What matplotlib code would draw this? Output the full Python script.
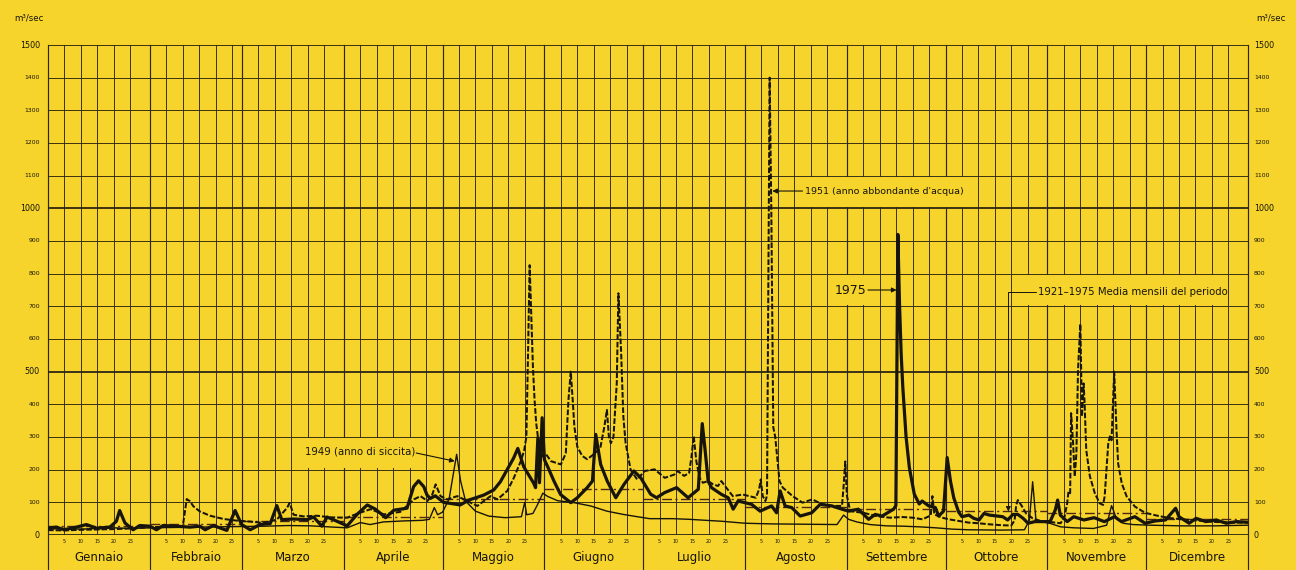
import matplotlib
matplotlib.use("Agg")
import matplotlib.pyplot as plt
from matplotlib.patches import Rectangle

plt.rcParams["font.family"] = ["DejaVu Sans"]

PAPER = "#F6D42B"
INK = "#17140c"
GRID = "#2c2613"
MEAN_INK = "#4d2614"

# ---- calendar ---------------------------------------------------------------
months = ["Gennaio", "Febbraio", "Marzo", "Aprile", "Maggio", "Giugno",
          "Luglio", "Agosto", "Settembre", "Ottobre", "Novembre", "Dicembre"]
month_len = [31, 28, 31, 30, 31, 30, 31, 31, 30, 31, 30, 31]
day_marks = [5, 10, 15, 20, 25]
flow_ticks = list(range(0, 1501, 100))

# ---- daily discharge, m3/sec (day of year, value) -----------------------------
days_1975 = [0, 2.5, 5, 8.6, 11.7, 14.7, 18.8, 20.8, 21.8, 23.4,
             25.9, 27.9, 31, 33, 35, 39, 43.2, 46.2, 47.8, 50.3,
             54.4, 56.9, 58.9, 61.5, 64.5, 67.6, 69.6, 71.1, 74.7, 78.8,
             80.8, 83.3, 84.9, 87.9, 91, 94, 97.1, 99.6, 102.7, 105.2,
             109.2, 111.2, 112.7, 114.3, 115.3, 116.3, 117.8, 120.3, 125.4, 128,
             132.5, 135.6, 137.6, 139.6, 141.6, 142.9, 144.7, 147.7, 148.3, 149,
             149.5, 150.3, 151, 151.9, 153.9, 155.9, 159, 161, 164, 165.6,
             166.6, 168.1, 170.1, 172.7, 175.2, 178.2, 180.3, 183.3, 185.1, 187.6,
             191.2, 194.7, 197.8, 199, 199.8, 200.8, 201.8, 204.9, 206.9, 208.4,
             209.9, 214, 216.6, 220.1, 221.6, 222.7, 224.2, 226.2, 228.8, 232.3,
             234.9, 238.4, 241.5, 243.5, 246.5, 249.6, 251.6, 253.7, 257.2, 257.9,
             258.5, 259, 259.5, 260, 261, 262, 263.5, 265, 265.9, 267.9,
             269.9, 270.9, 272.4, 273.5, 274.5, 275.5, 277, 278, 280.1, 281.6,
             283.2, 284.7, 286.3, 290.4, 291.9, 293.5, 295, 296.6, 298.1, 300.2,
             304.8, 306.4, 307.1, 307.9, 310, 312, 315.1, 318.2, 321.3, 324.4,
             326.5, 330.6, 333.7, 336.8, 339.9, 343, 344, 347.1, 349.2, 352.2,
             355.3, 358.4, 361.5, 365]
flow_1975 = [21, 24, 16, 24, 32, 21, 24, 42, 75, 37,
             16, 29, 27, 16, 29, 27, 24, 27, 16, 29,
             14, 75, 32, 16, 32, 35, 90, 47, 49, 47,
             55, 27, 55, 42, 28, 63, 92, 79, 53, 76,
             82, 148, 166, 148, 122, 112, 120, 100, 92, 107,
             122, 138, 163, 199, 235, 265, 209, 159, 145, 298,
             160, 359, 230, 211, 165, 124, 99, 114, 145, 165,
             308, 216, 165, 114, 155, 196, 175, 125, 114, 130,
             145, 114, 140, 341, 267, 165, 145, 124, 114, 79,
             104, 94, 73, 89, 68, 135, 89, 84, 58, 68,
             94, 89, 79, 73, 79, 48, 63, 58, 79, 90,
             920, 708, 555, 453, 300, 206, 125, 95, 104, 89,
             84, 58, 73, 237, 165, 114, 70, 56, 61, 51,
             46, 66, 61, 56, 46, 63, 63, 51, 36, 41,
             41, 77, 107, 61, 41, 56, 46, 53, 41, 56,
             41, 56, 36, 43, 46, 82, 56, 36, 51, 41,
             46, 36, 41, 39]

days_1951 = [0, 5, 10, 15, 20, 25, 31, 36, 41, 42.2,
             43.2, 44.2, 46.2, 49.3, 53.4, 57.4, 61.5, 65.5, 69.6, 72.7,
             73.5, 74.7, 77.7, 81.8, 85.9, 91, 94, 98.1, 102.2, 107.2,
             111.3, 113.3, 115.4, 116.9, 117.9, 119.4, 121.4, 124.5, 127.5, 130.6,
             134.6, 136.7, 139.7, 141.7, 143.8, 144.8, 145.5, 146, 146.5, 147,
             147.5, 148, 148.5, 149, 149.7, 150.5, 151.5, 153, 156, 157.5,
             158.3, 159, 159.6, 160.1, 161, 162.5, 164, 166, 168, 169.2,
             170, 170.6, 171.2, 172, 173, 173.5, 174.3, 175, 175.7, 177.2,
             179.2, 181.5, 184.5, 187.6, 190.5, 191.5, 193.5, 195, 195.7, 196.4,
             197.2, 198.2, 199.2, 200.8, 202.3, 203.8, 204.8, 206.3, 208.3, 211.3,
             213.3, 215.3, 216.3, 216.8, 217.4, 218.2, 218.7, 219.5, 220, 220.6,
             221.2, 221.8, 222.5, 223.5, 226.5, 229.5, 232.5, 235.5, 238.5, 241.5,
             242, 242.5, 243, 244, 248, 252, 256, 260, 263, 266,
             268.5, 269, 269.6, 272, 274, 277, 280, 283, 286, 290,
             293, 294, 294.5, 295, 296, 297.5, 299.5, 302.5, 305.5, 308,
             309.2, 310, 310.4, 310.9, 311.2, 311.8, 312.3, 312.8, 313.3, 314,
             314.5, 315, 315.3, 315.8, 316.9, 318.4, 319.9, 320.9, 321.4, 322.5,
             323, 323.5, 324.3, 325, 325.5, 326.6, 328.1, 330.6, 333.7, 337,
             341, 345, 350, 355, 360, 365]
flow_1951 = [15, 14, 16, 17, 18, 20, 24, 25, 27, 110,
             103, 88, 72, 59, 49, 44, 41, 37, 47, 83,
             98, 62, 57, 59, 54, 53, 65, 79, 63, 71,
             109, 119, 104, 124, 155, 119, 109, 119, 104, 89,
             119, 109, 135, 175, 226, 257, 300, 550, 826, 668,
             515, 413, 342, 301, 260, 240, 247, 226, 216, 250,
             413, 500, 413, 332, 270, 242, 232, 247, 267, 330,
             383, 301, 281, 300, 465, 740, 566, 362, 281, 200,
             170, 196, 201, 175, 185, 196, 181, 190, 237, 303,
             226, 175, 160, 165, 155, 150, 165, 145, 119, 124,
             119, 114, 140, 170, 119, 104, 120, 1400, 1000, 330,
             300, 237, 165, 145, 119, 99, 109, 94, 89, 89,
             150, 225, 120, 73, 68, 58, 53, 55, 53, 48,
             60, 119, 63, 53, 48, 43, 38, 36, 33, 30,
             29, 45, 92, 107, 92, 66, 51, 41, 39, 36,
             56, 97, 133, 128, 373, 281, 179, 250, 505, 646,
             363, 464, 403, 260, 180, 128, 97, 92, 118, 281,
             302, 290, 500, 321, 219, 158, 118, 87, 68, 60,
             52, 48, 44, 40, 38, 38]

days_1949 = [0, 5, 10, 15, 20, 25, 31, 38, 45, 52,
             59, 66, 73, 80, 87, 91, 95, 98, 102, 108,
             114, 116, 117.5, 118.5, 120, 122, 123.5, 124.3, 125.5, 127,
             130, 134, 139, 144, 145, 145.6, 147.5, 149, 150.5, 152,
             155, 160, 165, 170, 175, 178, 183, 190, 195, 200,
             205, 212, 220, 230, 240, 242, 243.5, 246, 250, 255,
             260, 265, 270, 275, 280, 290, 297, 298.5, 299.5, 300.5,
             302, 305, 308, 312, 318, 322, 323.5, 325, 327, 330,
             335, 345, 355, 365]
flow_1949 = [18, 20, 18, 20, 22, 20, 22, 23, 24, 25,
             26, 27, 29, 28, 24, 22, 38, 32, 40, 43,
             45, 48, 84, 62, 70, 110, 200, 247, 165, 104,
             73, 58, 53, 56, 100, 62, 66, 95, 128, 118,
             105, 99, 89, 73, 63, 58, 50, 50, 48, 45,
             42, 36, 34, 33, 32, 61, 48, 40, 32, 28,
             27, 25, 22, 18, 16, 15, 16, 45, 163, 46,
             41, 35, 25, 22, 20, 30, 90, 50, 36, 32,
             30, 28, 28, 30]

# monthly means 1921-1975
mean_monthly = [28, 34, 42, 55, 110, 140, 109, 86, 80, 72, 68, 48]

month_start = [sum(month_len[:i]) for i in range(12)]
month_end = [s + n for s, n in zip(month_start, month_len)]

# ---- figure -----------------------------------------------------------------
W, H = 1296, 570
fig = plt.figure(figsize=(W / 100, H / 100), dpi=100, facecolor=PAPER)
L, R, T, B = 48, 1248, 45, 535
ax = fig.add_axes([L / W, 1 - B / H, (R - L) / W, (B - T) / H])
ax.set_xlim(0, 365)
ax.set_ylim(0, 1500)
ax.axis("off")

STRIP_BOTTOM = -115

# grid: month boundaries run down through the month strip
for s in month_start + [365]:
    ax.plot([s, s], [STRIP_BOTTOM, 1500], color=GRID, lw=0.85,
            clip_on=False, zorder=1)
for s in month_start:
    for d in day_marks:
        ax.plot([s + d, s + d], [0, 1500], color=GRID, lw=0.65, zorder=1)
for v in flow_ticks:
    major = v % 500 == 0
    ax.plot([0, 365], [v, v], color=GRID, lw=1.3 if major else 0.65,
            zorder=1, solid_capstyle="butt")

# blank panels behind the captions
for x0, x1, y0, y1 in [(76.7, 112.8, 204, 296),
                       (227.5, 278.9, 1004, 1096),
                       (237.5, 250.3, 704, 796),
                       (297.8, 358.6, 704, 796)]:
    ax.add_patch(Rectangle((x0, y0), x1 - x0, y1 - y0, facecolor=PAPER,
                           edgecolor="none", zorder=1.5))

# series
ax.hlines(mean_monthly, month_start, month_end, colors=MEAN_INK,
          linestyles=[(0, (7, 2.5, 1.5, 2.5))], lw=1.0, zorder=2)
ax.plot(days_1949, flow_1949, color=INK, lw=1.0, zorder=3,
        solid_joinstyle="round")
ax.plot(days_1951, flow_1951, color=INK, lw=1.45, ls=(0, (2.8, 1.0)),
        zorder=3)
ax.plot(days_1975, flow_1975, color=INK, lw=2.3, zorder=4,
        solid_joinstyle="round", solid_capstyle="round")

# flow scale on both sides
ytr = ax.get_yaxis_transform()
for v in flow_ticks:
    fs = 5.8 if v % 500 == 0 else 4.4
    ax.text(-0.0067, v, str(v), transform=ytr, ha="right", va="center",
            fontsize=fs, color=INK)
    ax.text(1.005, v, str(v), transform=ytr, ha="left", va="center",
            fontsize=fs, color=INK)
fig.text(29 / W, 1 - 18 / H, "m³/sec", ha="center", va="center",
         fontsize=6.2, color=INK)
fig.text(1271 / W, 1 - 18 / H, "m³/sec", ha="center", va="center",
         fontsize=6.2, color=INK)

# month strip
for s, n, name in zip(month_start, month_len, months):
    for d in day_marks:
        ax.text(s + d, -19, str(d), ha="center", va="center", fontsize=3.4,
                color=INK)
    ax.text(s + n / 2, -68, name, ha="center", va="center", fontsize=8.5,
            color=INK)

# captions
arrow = dict(arrowstyle="-|>", color=INK, lw=0.8, mutation_scale=7,
             shrinkA=0, shrinkB=0)
ax.text(78.3, 255, "1949 (anno di siccita)", ha="left", va="center",
        fontsize=7.3, color=INK, zorder=5)
ax.annotate("", xy=(123.7, 226), xytext=(112.0, 251), arrowprops=arrow,
            zorder=5)

ax.text(230.2, 1053, "1951 (anno abbondante d'acqua)", ha="left",
        va="center", fontsize=6.8, color=INK, zorder=5)
ax.annotate("", xy=(220.3, 1053), xytext=(229.5, 1053), arrowprops=arrow,
            zorder=5)

ax.text(239.4, 750, "1975", ha="left", va="center", fontsize=9,
        color=INK, zorder=5)
ax.annotate("", xy=(258.1, 750), xytext=(249.4, 750), arrowprops=arrow,
            zorder=5)

ax.text(301.1, 745, "1921\u20131975 Media mensili del periodo", ha="left",
        va="center", fontsize=7.3, color=INK, zorder=5)
ax.annotate("", xy=(292.1, mean_monthly[9]), xytext=(300.6, 745),
            arrowprops=dict(arrow, lw=0.7,
                            connectionstyle="angle,angleA=0,angleB=90,rad=0"),
            zorder=5)

fig.savefig("out.png", dpi=100, facecolor=PAPER)
